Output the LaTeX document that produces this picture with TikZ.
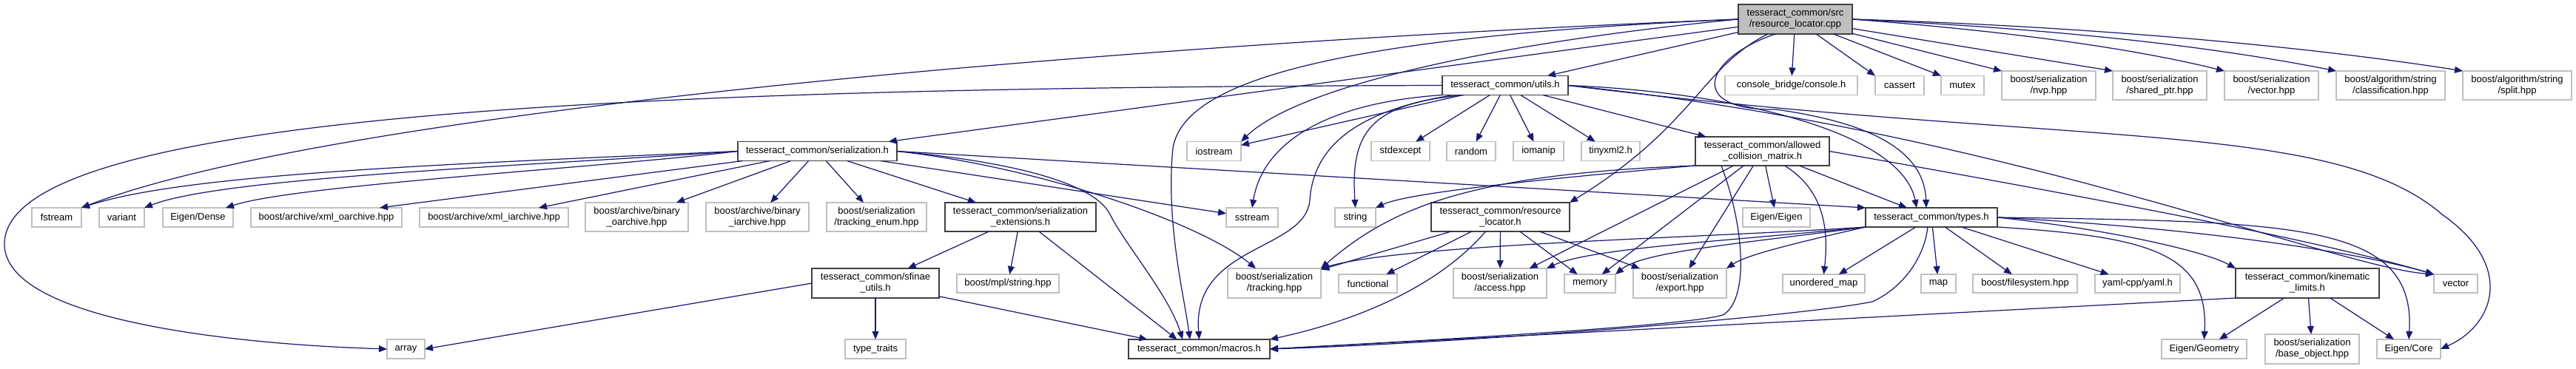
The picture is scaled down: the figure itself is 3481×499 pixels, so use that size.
\documentclass[tikz,border=0pt]{standalone}
\usepackage{fontspec}
\setmainfont{Liberation Sans}
\usetikzlibrary{arrows.meta}
\definecolor{edgecol}{RGB}{25,25,112}
\definecolor{greyline}{RGB}{191,191,191}
\definecolor{darkline}{RGB}{64,64,64}
\definecolor{mainfill}{RGB}{191,191,191}
\newcommand{\gnode}[7]{%
  \node[#1, minimum width={(#5-#3)*0.02cm}, minimum height={(#6-#4)*0.02cm}] (#2) at ({(#3+#5)/2},{(#4+#6)/2}) {#7};}
\tikzset{
  nd/.style={rectangle, inner sep=0pt, outer sep=0pt, align=center, font=\fontsize{7.4}{8.5}\selectfont, text=black, line width=0.8pt},
  doc/.style={nd, draw=darkline},
  ext/.style={nd, draw=greyline},
  cur/.style={nd, draw=darkline, fill=mainfill},
  edge/.style={draw=edgecol, line width=0.7pt, -{Triangle[length=0.22cm,width=0.18cm]}},
}
\begin{document}
\begin{tikzpicture}[x=0.02cm, y=-0.02cm]
\useasboundingbox (0,0) rectangle (3481,499);
% rank 0
\gnode{cur}{cpp}{2349}{6}{2503}{46}{tesseract\_common/src\\/resource\_locator.cpp}
% rank 1
\gnode{doc}{utils}{1949}{102.5}{2119}{128.5}{tesseract\_common/utils.h}
\gnode{ext}{console}{2331}{102.5}{2510}{128.5}{console\_bridge/console.h}
\gnode{ext}{cassert}{2534}{102.5}{2600}{128.5}{cassert}
\gnode{ext}{mutex}{2623}{102.5}{2681}{128.5}{mutex}
\gnode{ext}{nvp}{2705}{96}{2832}{135}{boost/serialization\\/nvp.hpp}
\gnode{ext}{sharedptr}{2855}{96}{2982}{135}{boost/serialization\\/shared\_ptr.hpp}
\gnode{ext}{vectorhpp}{3006}{96}{3133}{135}{boost/serialization\\/vector.hpp}
\gnode{ext}{classif}{3157}{96}{3304}{135}{boost/algorithm/string\\/classification.hpp}
\gnode{ext}{split}{3328}{96}{3475}{135}{boost/algorithm/string\\/split.hpp}
% rank 2
\gnode{doc}{serial}{997}{191.5}{1212}{217.5}{tesseract\_common/serialization.h}
\gnode{ext}{iostream}{1604}{191.5}{1677}{217.5}{iostream}
\gnode{ext}{stdexcept}{1853}{191.5}{1932}{217.5}{stdexcept}
\gnode{ext}{random}{1955}{191.5}{2021}{217.5}{random}
\gnode{ext}{iomanip}{2045}{191.5}{2113}{217.5}{iomanip}
\gnode{ext}{tinyxml}{2137}{191.5}{2216}{217.5}{tinyxml2.h}
\gnode{doc}{acm}{2291}{185}{2472}{224}{tesseract\_common/allowed\\\_collision\_matrix.h}
% rank 3
\gnode{ext}{fstream}{43}{281}{110}{307}{fstream}
\gnode{ext}{variant}{134}{281}{195}{307}{variant}
\gnode{ext}{dense}{220}{281}{315}{307}{Eigen/Dense}
\gnode{ext}{xmlo}{339}{281}{543}{307}{boost/archive/xml\_oarchive.hpp}
\gnode{ext}{xmli}{567}{281}{768}{307}{boost/archive/xml\_iarchive.hpp}
\gnode{ext}{bino}{791}{274}{930}{313}{boost/archive/binary\\\_oarchive.hpp}
\gnode{ext}{bini}{954}{274}{1093}{313}{boost/archive/binary\\\_iarchive.hpp}
\gnode{ext}{trackenum}{1117}{274}{1252}{313}{boost/serialization\\/tracking\_enum.hpp}
\gnode{doc}{serext}{1277}{274}{1481}{313}{tesseract\_common/serialization\\\_extensions.h}
\gnode{ext}{sstream}{1657}{281}{1727}{307}{sstream}
\gnode{ext}{string}{1804}{281}{1859}{307}{string}
\gnode{doc}{rlh}{1934}{274}{2121}{313}{tesseract\_common/resource\\\_locator.h}
\gnode{ext}{eigeneigen}{2355}{281}{2446}{307}{Eigen/Eigen}
\gnode{doc}{types}{2521}{281}{2699}{307}{tesseract\_common/types.h}
% rank 4
\gnode{doc}{sfinae}{1097}{363}{1269}{403}{tesseract\_common/sfinae\\\_utils.h}
\gnode{ext}{mplstring}{1293}{371}{1431}{396}{boost/mpl/string.hpp}
\gnode{ext}{tracking}{1659}{363}{1785}{403}{boost/serialization\\/tracking.hpp}
\gnode{ext}{functional}{1809}{371}{1888}{396}{functional}
\gnode{ext}{access}{1964}{363}{2090}{403}{boost/serialization\\/access.hpp}
\gnode{ext}{memory}{2114}{371}{2183}{396}{memory}
\gnode{ext}{export}{2207}{363}{2333}{403}{boost/serialization\\/export.hpp}
\gnode{ext}{umap}{2409}{371}{2520}{396}{unordered\_map}
\gnode{ext}{map}{2596}{371}{2643}{396}{map}
\gnode{ext}{filesystem}{2666}{371}{2807}{396}{boost/filesystem.hpp}
\gnode{ext}{yaml}{2831}{371}{2946}{396}{yaml-cpp/yaml.h}
\gnode{doc}{kin}{3021}{363}{3215}{403}{tesseract\_common/kinematic\\\_limits.h}
\gnode{ext}{vector}{3289}{371}{3348}{396}{vector}
% rank 5
\gnode{ext}{array}{523}{459}{574}{485}{array}
\gnode{ext}{typetraits}{1142}{459}{1224}{485}{type\_traits}
\gnode{doc}{macros}{1525}{459}{1716}{485}{tesseract\_common/macros.h}
\gnode{ext}{geometry}{2921}{459}{3036}{485}{Eigen/Geometry}
\gnode{ext}{baseobj}{3061}{452}{3188}{492}{boost/serialization\\/base\_object.hpp}
\gnode{ext}{eigencore}{3212}{459}{3298}{485}{Eigen/Core}

% ---- edges from resource_locator.cpp
\draw[edge] (cpp) -- (utils);
\draw[edge] (cpp) -- (serial);
\draw[edge] (cpp.west) .. controls (1500,60) and (450,150) .. (fstream.north east);
\draw[edge] (cpp.west) .. controls (2000,60) and (1750,120) .. (iostream.north east);
\draw[edge] (cpp.west) .. controls (1800,50) and (1600,110) .. (1585,200) .. controls (1575,300) and (1600,400) .. ([xshift=-0.25cm]macros.north);
\draw[edge] (cpp) -- (console);
\draw[edge] (cpp) -- (cassert.north west);
\draw[edge] (cpp) -- (mutex.north west);
\draw[edge] (cpp) -- (nvp.north west);
\draw[edge] (cpp) -- (sharedptr.north west);
\draw[edge] (cpp.east) .. controls (2750,45) and (2900,70) .. (vectorhpp.north west);
\draw[edge] (cpp.east) .. controls (2800,40) and (3000,65) .. (classif.north west);
\draw[edge] (cpp.east) .. controls (2800,35) and (3100,60) .. (split.north west);
\draw[edge] ([xshift=0.8cm]cpp.south west) .. controls (2300,90) and (2290,170) .. (rlh.north east);
\draw[edge] ([xshift=1cm]cpp.south west) .. controls (2300,80) and (2280,150) .. (2400,148) .. controls (2520,165) and (2600,200) .. ([xshift=-0.14cm]types.north);

% ---- edges from utils.h
\draw[edge] (utils.west) .. controls (900,118) and (6,150) .. (6,330) .. controls (6,430) and (300,465) .. (array.west);
\draw[edge] (utils) -- (iostream);
\draw[edge] (utils.south west) .. controls (1780,140) and (1705,200) .. (sstream.north);
\draw[edge] ([xshift=0.3cm]utils.south west) .. controls (1830,150) and (1775,200) .. (1770,270) .. controls (1765,340) and (1610,330) .. (macros.north);
\draw[edge] ([xshift=0.6cm]utils.south west) .. controls (1850,140) and (1825,180) .. (string.north);
\draw[edge] (utils) -- (stdexcept);
\draw[edge] (utils) -- (random);
\draw[edge] (utils) -- (iomanip);
\draw[edge] (utils) -- (tinyxml);
\draw[edge] (utils) -- (acm);
\draw[edge] (utils.east) .. controls (2350,125) and (2570,180) .. ([xshift=-0.4cm]types.north);
\draw[edge] (utils.east) .. controls (2700,175) and (3150,360) .. (vector.north west);
\draw[edge] (utils.east) .. controls (2800,200) and (3150,160) .. (3300,290) .. controls (3400,360) and (3370,440) .. (eigencore.east);

% ---- edges from serialization.h
\draw[edge] (serial.west) .. controls (600,222) and (250,235) .. (fstream.north east);
\draw[edge] (serial.west) .. controls (700,225) and (300,240) .. (variant.north east);
\draw[edge] (serial.west) .. controls (800,228) and (400,250) .. ([xshift=-0.2cm]dense.north east);
\draw[edge] (serial) -- ([xshift=-0.6cm]xmlo.north east);
\draw[edge] (serial) -- ([xshift=-0.8cm]xmli.north east);
\draw[edge] (serial) -- (bino);
\draw[edge] (serial) -- (bini);
\draw[edge] (serial) -- (trackenum);
\draw[edge] (serial) -- (serext);
\draw[edge] (serial) -- (sstream);
\draw[edge] (serial.east) .. controls (1400,225) and (1620,300) .. ([xshift=-0.5cm]tracking.north);
\draw[edge] (serial.east) .. controls (1380,220) and (1480,250) .. (1500,290) .. controls (1520,330) and (1580,400) .. ([xshift=-0.45cm]macros.north);
\draw[edge] (serial.east) -- (types.north west);

% ---- serialization_extensions.h
\draw[edge] (serext) -- (sfinae);
\draw[edge] (serext) -- (mplstring);
\draw[edge] (serext) -- ([xshift=-0.6cm]macros.north);

% ---- sfinae_utils.h
\draw[edge] (sfinae.west) -- (array.east);
\draw[edge] (sfinae) -- (typetraits);
\draw[edge] (sfinae) -- ([xshift=-1.4cm]macros.north);

% ---- allowed_collision_matrix.h
\draw[edge] (acm.south west) .. controls (2050,245) and (1900,262) .. (string.north east);
\draw[edge] (acm.south west) .. controls (1990,235) and (1880,280) .. (tracking.north east);
\draw[edge] (acm) -- (access);
\draw[edge] (acm) -- (memory);
\draw[edge] (acm) -- (export);
\draw[edge] ([xshift=0.7cm]acm.south west) .. controls (2355,300) and (2365,400) .. (2330,425) .. controls (2300,440) and (1900,462) .. (macros.east);
\draw[edge] ([xshift=0.6cm]acm.south) .. controls (2470,260) and (2470,320) .. (umap.north);
\draw[edge] (acm) -- (eigeneigen);
\draw[edge] (acm) -- (types);
\draw[edge] (acm.east) .. controls (2900,280) and (3150,330) .. (vector.north west);

% ---- resource_locator.h
\draw[edge] (rlh) -- (tracking);
\draw[edge] (rlh) -- (functional);
\draw[edge] (rlh) -- (access);
\draw[edge] (rlh) -- (memory);
\draw[edge] (rlh) -- (export);
\draw[edge] ([xshift=-0.4cm]rlh.south) .. controls (1950,380) and (1850,430) .. (macros.north east);

% ---- types.h
\draw[edge] ([xshift=-0.1cm]types.south) .. controls (2600,350) and (2570,390) .. (2530,408) .. controls (2420,430) and (1950,465) .. (macros.east);
\draw[edge] (types.east) .. controls (3000,310) and (3200,345) .. (vector.north west);
\draw[edge] (types.south west) .. controls (2350,330) and (2220,340) .. (memory.north east);
\draw[edge] (types.south west) .. controls (2350,325) and (2150,335) .. (access.north east);
\draw[edge] (types.south west) .. controls (2300,322) and (1900,330) .. (tracking.north east);
\draw[edge] (types.south west) .. controls (2420,330) and (2360,345) .. (export.north east);
\draw[edge] (types) -- (umap);
\draw[edge] (types) -- (map);
\draw[edge] (types) -- (filesystem);
\draw[edge] (types) -- (yaml);
\draw[edge] (types.east) .. controls (2850,310) and (2980,340) .. (kin.north west);
\draw[edge] (types.south east) .. controls (2900,320) and (2985,340) .. (geometry.north);
\draw[edge] (types.east) .. controls (3100,300) and (3265,300) .. (eigencore.north);

% ---- kinematic_limits.h
\draw[edge] (kin) -- (geometry);
\draw[edge] (kin) -- (baseobj);
\draw[edge] (kin) -- (eigencore);
\draw[edge] (kin.south west) -- (macros.east);
\end{tikzpicture}
\end{document}
